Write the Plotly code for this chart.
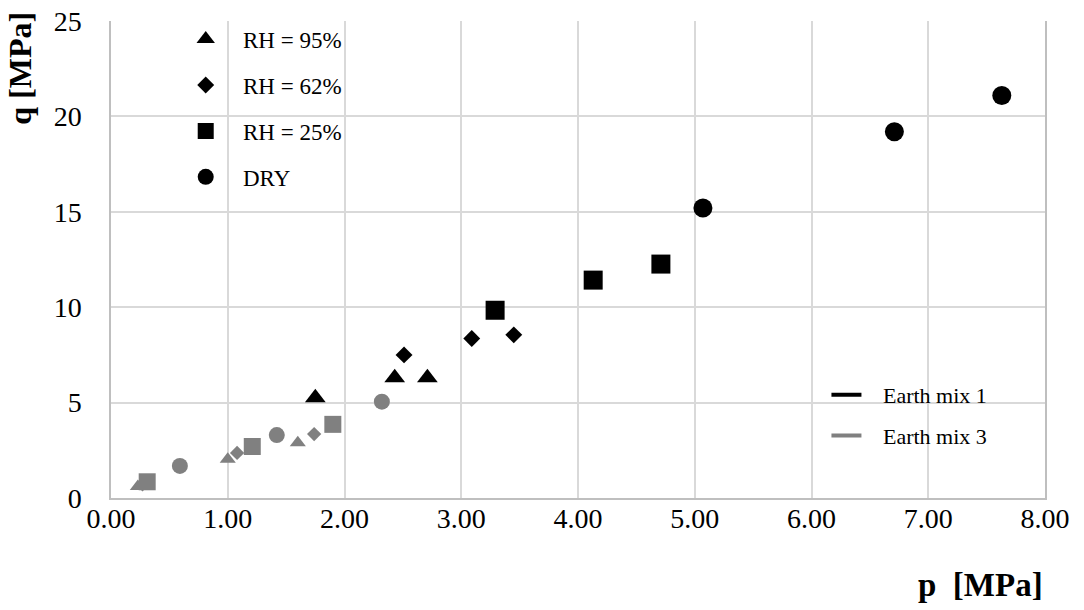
import plotly.graph_objects as go

# ---- data: Earth mix 1 (black) ----
m1_rh95_p = [1.75, 2.43, 2.71]
m1_rh95_q = [5.25, 6.3, 6.3]
m1_rh62_p = [2.51, 3.09, 3.45]
m1_rh62_q = [7.5, 8.36, 8.55]
m1_rh25_p = [3.29, 4.13, 4.71]
m1_rh25_q = [9.84, 11.42, 12.26]
m1_dry_p = [5.07, 6.71, 7.63]
m1_dry_q = [15.2, 19.2, 21.1]

# ---- data: Earth mix 3 (gray) ----
m3_rh95_p = [0.23, 1.00, 1.60]
m3_rh95_q = [0.6, 2.03, 2.9]
m3_rh62_p = [0.27, 1.08, 1.74]
m3_rh62_q = [0.72, 2.36, 3.35]
m3_rh25_p = [0.31, 1.21, 1.90]
m3_rh25_q = [0.85, 2.7, 3.86]
m3_dry_p = [0.59, 1.42, 2.32]
m3_dry_q = [1.68, 3.3, 5.05]

groups = ["RH = 95%", "RH = 62%", "RH = 25%", "DRY"]
symbols = ["triangle-up", "diamond", "square", "circle"]
mixes = ["Earth mix 1", "Earth mix 3"]

x_ticks = [0, 1, 2, 3, 4, 5, 6, 7, 8]
y_ticks = [0, 5, 10, 15, 20, 25]

BLACK = "#000000"
GRAY = "#808080"
FONT = "Liberation Serif"
NB = "\u00a0"

m1 = [(m1_rh95_p, m1_rh95_q), (m1_rh62_p, m1_rh62_q), (m1_rh25_p, m1_rh25_q), (m1_dry_p, m1_dry_q)]
m3 = [(m3_rh95_p, m3_rh95_q), (m3_rh62_p, m3_rh62_q), (m3_rh25_p, m3_rh25_q), (m3_dry_p, m3_dry_q)]
sizes1 = [18, 13, 19, 19]
sizes3 = [14, 11, 17, 16]

fig = go.Figure()

for (px, qy), name, sym, s in zip(m3, groups, symbols, sizes3):
    fig.add_trace(go.Scatter(x=px, y=qy, mode="markers", name=name + " (mix 3)",
                             marker=dict(symbol=sym, size=s, color=GRAY),
                             showlegend=False))

for i, ((px, qy), name, sym, s) in enumerate(zip(m1, groups, symbols, sizes1)):
    fig.add_trace(go.Scatter(x=px, y=qy, mode="markers", name=NB * 3 + name,
                             marker=dict(symbol=sym, size=s, color=BLACK),
                             legendgroup="g%d" % i, legend="legend"))

for mix, col in zip(mixes, [BLACK, GRAY]):
    fig.add_trace(go.Scatter(x=[None], y=[None], mode="lines", name=NB * 3 + mix,
                             line=dict(color=col, width=4),
                             legendgroup=mix, legend="legend2"))

fig.update_layout(
    width=1084, height=610,
    margin=dict(l=111, r=39, t=21, b=112, autoexpand=False),
    paper_bgcolor="white", plot_bgcolor="white",
    font=dict(family=FONT, color="#000000"),
    legend=dict(x=0.08, y=1.007, xanchor="left", yanchor="top",
                bgcolor="rgba(0,0,0,0)", font=dict(family=FONT, size=23),
                tracegroupgap=13, itemsizing="trace"),
    legend2=dict(x=0.766, y=0.26, xanchor="left", yanchor="top",
                 bgcolor="rgba(0,0,0,0)", font=dict(family=FONT, size=22),
                 tracegroupgap=9),
    xaxis=dict(range=[0, 8], tickvals=x_ticks, tickformat=".2f", automargin=False,
               showgrid=True, gridcolor="#d9d9d9", gridwidth=1.5,
               showline=True, linecolor="#bfbfbf", linewidth=2,
               zeroline=False, ticks="", tickfont=dict(family=FONT, size=28),
               ticklabelstandoff=-6),
    yaxis=dict(range=[0, 25], tickvals=y_ticks, automargin=False,
               showgrid=True, gridcolor="#d9d9d9", gridwidth=1.5,
               showline=True, linecolor="#bfbfbf", linewidth=1.5, mirror=True,
               zeroline=False, ticks="", tickfont=dict(family=FONT, size=28),
               ticklabelstandoff=22),
    annotations=[
        dict(text="<b>p  [MPa]</b>", xref="paper", yref="paper", x=1.0, y=-0.182,
             xanchor="right", yanchor="middle", showarrow=False,
             font=dict(family=FONT, size=33)),
        dict(text="<b>q [MPa]</b>", xref="paper", yref="paper", x=-0.097, y=0.901,
             xanchor="center", yanchor="middle", textangle=-90, showarrow=False,
             font=dict(family=FONT, size=32)),
    ],
)

fig.write_html("out.html", config={"displayModeBar": False},
               post_script="document.body.style.margin='0';")
